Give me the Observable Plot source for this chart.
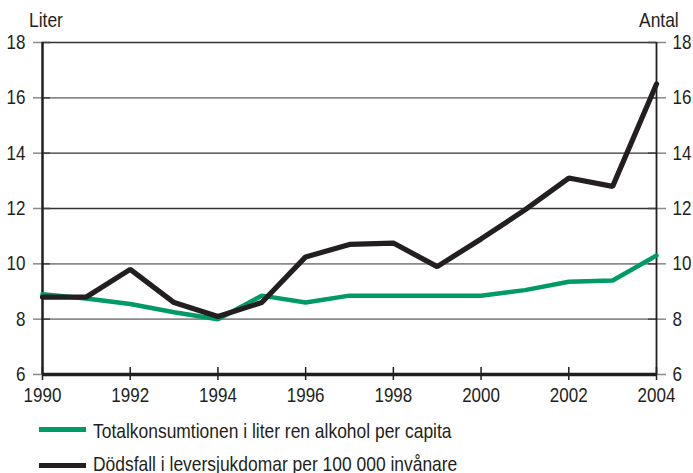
<!DOCTYPE html>
<html><head><meta charset="utf-8">
<script src="https://cdn.jsdelivr.net/npm/d3@7"></script>
<script src="https://cdn.jsdelivr.net/npm/@observablehq/plot@0.6"></script>
<style>
body{margin:0;background:#fff;font-family:"Liberation Sans",Arial,sans-serif;}
#wrap{position:relative;width:693px;height:473px;overflow:hidden;}
.unit{position:absolute;top:9px;font-size:21px;line-height:21px;color:#231f20;white-space:nowrap;transform:scaleX(0.83);transform-origin:left center;}
.sw{position:absolute;left:39px;width:47px;height:5px;}
.lt{position:absolute;left:93px;font-size:21px;line-height:21px;color:#231f20;white-space:nowrap;transform:scaleX(0.83);transform-origin:left center;}
#chart{position:absolute;left:0;top:0;}
</style></head><body>
<div id="wrap">
<div id="chart"></div>
<div class="unit" style="left:29px">Liter</div>
<div class="unit" style="left:639px">Antal</div>
<div class="sw" style="top:427px;background:#009a66"></div>
<div class="lt" id="l1" style="top:420px"></div>
<div class="sw" style="top:463px;background:#231f20"></div>
<div class="lt" id="l2" style="top:453px"></div>
</div>
<script>
const years = [1990,1991,1992,1993,1994,1995,1996,1997,1998,1999,2000,2001,2002,2003,2004];
const alcohol = [8.9,8.75,8.55,8.25,8.0,8.85,8.6,8.85,8.85,8.85,8.85,9.05,9.35,9.4,10.3];
const deaths = [8.8,8.8,9.8,8.6,8.1,8.6,10.25,10.7,10.75,9.9,10.9,11.95,13.1,12.8,16.5];
const seriesNames = ["Totalkonsumtionen i liter ren alkohol per capita","Dödsfall i leversjukdomar per 100 000 invånare"];
const xTicks = [1990,1992,1994,1996,1998,2000,2002,2004];
const yTicks = [6,8,10,12,14,16,18];
const grayGrid = [8,10,16];
const darkGrid = [12,14,18];

document.getElementById("l1").textContent = seriesNames[0];
document.getElementById("l2").textContent = seriesNames[1];

const alcData = years.map((y,i)=>({year:y, v:alcohol[i]}));
const deathData = years.map((y,i)=>({year:y, v:deaths[i]}));
const ink = "#231f20";
const fs = 20.5;

const chart = Plot.plot({
  width: 693, height: 408,
  marginLeft: 42, marginRight: 37, marginTop: 42, marginBottom: 34,
  style: {fontFamily: '"Liberation Sans",Arial,sans-serif', fontSize: "21px", color: ink, background: "transparent"},
  x: {domain: [1990, 2004]},
  y: {domain: [6, 18]},
  marks: [
    Plot.ruleY(grayGrid, {stroke: "#8a8a8a", strokeWidth: 1.6}),
    Plot.ruleY(darkGrid, {stroke: "#333", strokeWidth: 1.4}),
    Plot.axisY({anchor: "left", ticks: yTicks, tickSize: 9, tickPadding: 8, fontSize: fs, label: null, stroke: "#8a8a8a", strokeWidth: 1.5, fill: ink}),
    Plot.axisY({anchor: "right", ticks: yTicks, tickSize: 9, tickPadding: 7, fontSize: fs, label: null, stroke: "#8a8a8a", strokeWidth: 1.5, fill: ink}),
    Plot.axisY({anchor: "left", ticks: yTicks, tickSize: -8, tickFormat: () => "", label: null, stroke: "#444", strokeWidth: 1.5}),
    Plot.axisY({anchor: "right", ticks: yTicks, tickSize: -9, tickFormat: () => "", label: null, stroke: "#444", strokeWidth: 1.5}),
    Plot.axisX({ticks: xTicks, tickFormat: d => String(d), tickSize: 6, tickPadding: 7, fontSize: fs, label: null, stroke: ink, strokeWidth: 1.5, fill: ink}),
    Plot.axisX({ticks: xTicks, tickFormat: () => "", tickSize: -7, label: null, stroke: ink, strokeWidth: 1.5}),
    Plot.ruleX([1990], {stroke: ink, strokeWidth: 2.5}),
    Plot.ruleX([2004], {stroke: ink, strokeWidth: 1.8}),
    Plot.ruleY([6], {stroke: ink, strokeWidth: 3.5}),
    Plot.line(alcData, {x: "year", y: "v", stroke: "#009a66", strokeWidth: 4.5, strokeLinejoin: "miter"}),
    Plot.line(deathData, {x: "year", y: "v", stroke: ink, strokeWidth: 5.2, strokeLinejoin: "miter"})
  ]
});
d3.select(chart).selectAll("text").each(function() {
  const t = this.getAttribute("transform") || "";
  this.setAttribute("transform", t + " scale(0.83,1)");
});
document.getElementById("chart").appendChild(chart);
</script>
</body></html>
